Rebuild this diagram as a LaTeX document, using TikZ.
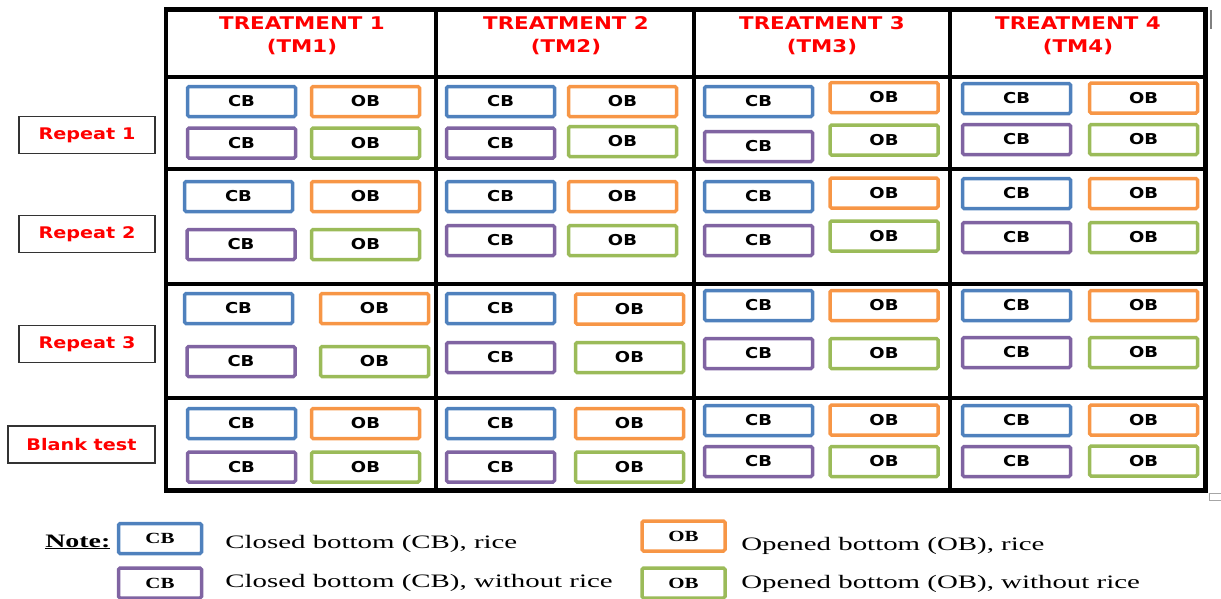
\documentclass[tikz,border=0pt]{standalone}
\usepackage{fontspec}
\setmainfont{Liberation Serif}
\newfontfamily\verdana{DejaVu Sans}
\usetikzlibrary{positioning}

\definecolor{cbblue}{RGB}{79,129,189}
\definecolor{oborange}{RGB}{247,150,70}
\definecolor{cbpurple}{RGB}{128,100,162}
\definecolor{obgreen}{RGB}{155,187,89}
\newcommand{\sansw}[1]{\scalebox{1.2}[1]{#1}}
\newcommand{\serifw}[1]{\scalebox{1.35}[1]{#1}}

\begin{document}
\begin{tikzpicture}[x=1pt,y=-1pt]

\tikzset{frame/.style={line width=4.5pt},
gridline/.style={line width=3.5pt},
pot/.style={draw,line width=3.5pt,rounded corners=1.5pt,minimum width=108pt,minimum height=30pt,inner sep=0pt,font=\verdana\bfseries\fontsize{15}{15}\selectfont},
cbrice/.style={pot,draw=cbblue},
obrice/.style={pot,draw=oborange},
cbnorice/.style={pot,draw=cbpurple},
obnorice/.style={pot,draw=obgreen},
head/.style={text=red,align=center,xscale=1.22,inner sep=0pt,font=\verdana\bfseries\fontsize{17.5}{23}\selectfont},
replab/.style={draw=black!80,line width=1.5pt,minimum height=37pt,inner sep=0pt,text=red,font=\verdana\bfseries\fontsize{16}{16}\selectfont},
key/.style={draw,line width=3.5pt,rounded corners=1.5pt,minimum width=83pt,minimum height=30pt,inner sep=0pt,font=\bfseries\fontsize{15.5}{15.5}\selectfont},
keytext/.style={anchor=base west,inner sep=0pt,xscale=1.52,font=\fontsize{19}{19}\selectfont}}

\clip (0,0) rectangle (1221,598);

% Table frame and rules
\draw[frame] (166,9.5) rectangle (1205.5,490.5);
\foreach \x in {436,694,950} \draw[gridline] (\x,9.5) -- (\x,490.5);
\foreach \y in {77,169,284,398} \draw[gridline] (166,\y) -- (1205.5,\y);

% Table handles
\draw[gray,line width=2pt] (1211,10) -- (1211,29);
\draw[gray!70,line width=1pt] (1209.5,493.5) rectangle (1222,500.5);

% Treatment headers
\foreach \i/\x in {1/302,2/566,3/822,4/1078}
	\node[head] (tm\i) at (\x,36) {TREATMENT \i\\(TM\i)};

% Repeat labels
\foreach \nm/\x/\y/\w/\lab in {rep1/87/135/136/Repeat 1, rep2/87/234/136/Repeat 2,
	rep3/87/344/136/Repeat 3, blank/81.5/444.5/147/Blank test}
	\node[replab,minimum width=\w pt] (\nm) at (\x,\y) {\sansw{\lab}};

% Boxes in each cell (row/column, then blue, orange, purple, green centres)
\foreach \r/\c/\bx/\by/\ox/\oy/\px/\py/\gx/\gy in {
	1/1/241.5/101.5/365.5/101.5/241.5/143/365.5/143,
	1/2/500.5/101.5/622.5/101.5/500.5/143/622.5/141.5,
	1/3/758.5/101.5/884/97.5/758.5/146.5/884/140,
	1/4/1016.5/98.5/1143.5/98/1016.5/139.5/1143.5/139.5,
	2/1/238.5/196.5/365.5/196.5/241/244.5/365.5/244.5,
	2/2/500.5/196.5/622.5/196.5/500.5/240.5/622.5/240.5,
	2/3/758.5/196.5/884/193/758.5/240.5/884/236,
	2/4/1016.5/193.5/1143.5/193.5/1016.5/237.5/1143.5/237.5,
	3/1/238.5/308.5/374.5/308.5/241/361.5/374.5/361.5,
	3/2/500.5/308.5/629.5/309/500.5/357.5/629.5/357.5,
	3/3/758.5/305.5/884/305.5/758.5/353.5/884/353.5,
	3/4/1016.5/305.5/1143.5/305.5/1016.5/352.5/1143.5/352.5,
	4/1/241.5/423.5/365.5/423.5/241.5/467/365.5/467,
	4/2/500.5/423.5/629.5/423.5/500.5/467/629.5/467,
	4/3/758.5/420.5/884/420/758.5/461.5/884/461.5,
	4/4/1016.5/420.5/1143.5/420/1016.5/461.5/1143.5/461%
}{
	\node[cbrice] (cb\r\c) at (\bx,\by) {\sansw{CB}};
	\node[obrice] (ob\r\c) at (\ox,\oy) {\sansw{OB}};
	\node[cbnorice] (cbn\r\c) at (\px,\py) {\sansw{CB}};
	\node[obnorice] (obn\r\c) at (\gx,\gy) {\sansw{OB}};
}

% Legend
\node[anchor=base west,inner sep=0pt,xscale=1.47,font=\bfseries\fontsize{19}{19}\selectfont] (note) at (45,547) {\underline{Note:}};
\node[key,draw=cbblue] (key1) at (160,538.5) {\serifw{CB}};
\node[key,draw=cbpurple] (key2) at (160,583) {\serifw{CB}};
\node[key,draw=oborange] (key3) at (683.5,536) {\serifw{OB}};
\node[key,draw=obgreen] (key4) at (683.5,583) {\serifw{OB}};
\node[keytext] (txt1) at (225,548) {Closed bottom (CB), rice};
\node[keytext] (txt2) at (225,587) {Closed bottom (CB), without rice};
\node[keytext] (txt3) at (741,550) {Opened bottom (OB), rice};
\node[keytext] (txt4) at (741,588) {Opened bottom (OB), without rice};

\end{tikzpicture}
\end{document}
